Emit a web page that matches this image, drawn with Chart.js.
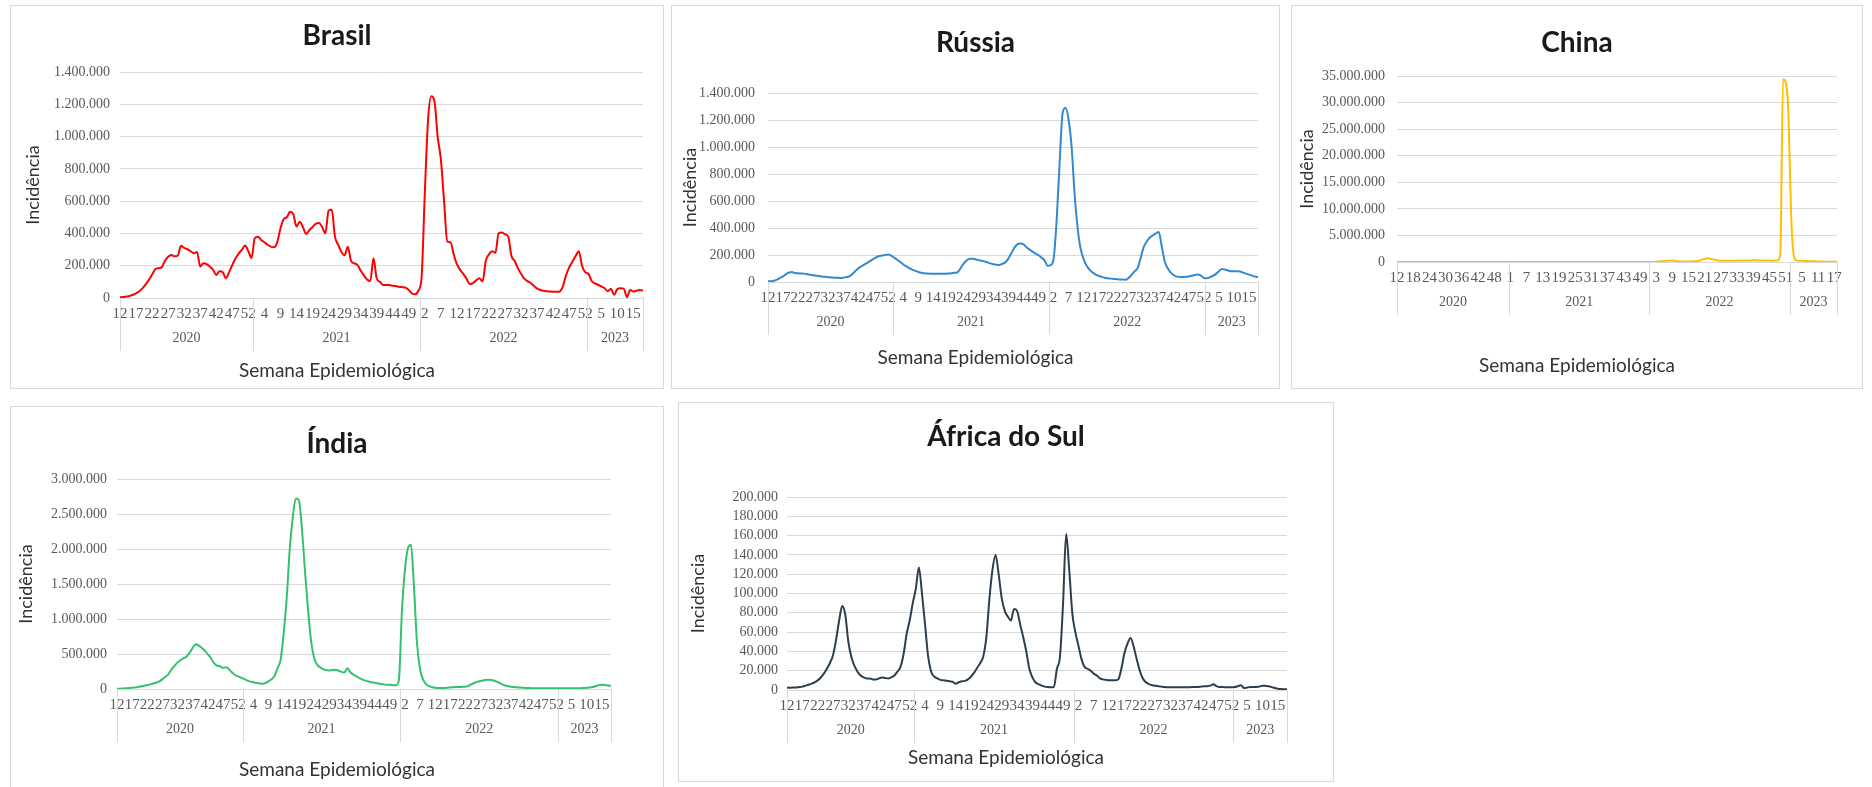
<!DOCTYPE html>
<html>
<head>
<meta charset="utf-8">
<script src="https://cdn.jsdelivr.net/npm/chart.js@4.4.1/dist/chart.umd.min.js"></script>
<style>
  body { margin: 0; background: #fff; width: 1872px; height: 787px; overflow: hidden; position: relative; }
  canvas { position: absolute; outline: 1px solid #d9d9d9; outline-offset: -1px; }
</style>
</head>
<body>
<canvas id="c_brasil"></canvas>
<canvas id="c_russia"></canvas>
<canvas id="c_china"></canvas>
<canvas id="c_india"></canvas>
<canvas id="c_africa"></canvas>
<script>
// categorias: semanas epidemiologicas agrupadas por ano
var yearNames = ['2020', '2021', '2022', '2023'];
var yearFirstWeek = [12, 1, 1, 1];
var yearLastWeek = [53, 52, 52, 18];

// incidencia semanal
var brasil = [
  4000, 6000, 9000, 12000, 20000, 29000, 42000, 60000, 85000, 112000,
  145000, 178000, 185000, 190000, 230000, 255000, 267000, 258000, 262000, 323000,
  310000, 302000, 290000, 277000, 285000, 195000, 215000, 210000, 194000, 175000,
  143000, 165000, 160000, 122000, 160000, 205000, 245000, 275000, 300000, 325000,
  290000, 248000, 370000, 380000, 360000, 345000, 330000, 318000, 314000, 345000,
  430000, 488000, 500000, 534000, 520000, 443000, 472000, 440000, 397000, 420000,
  440000, 460000, 465000, 440000, 401000, 540000, 546000, 380000, 330000, 285000,
  265000, 318000, 230000, 215000, 205000, 170000, 140000, 115000, 105000, 246000,
  122000, 100000, 81000, 81000, 80000, 76000, 74000, 70000, 67000, 64000,
  50000, 28000, 23000, 45000, 130000, 650000, 1100000, 1250000, 1220000, 1000000,
  860000, 600000, 350000, 345000, 270000, 210000, 174000, 150000, 120000, 87000,
  92000, 110000, 122000, 103000, 230000, 270000, 290000, 280000, 401000, 405000,
  395000, 380000, 260000, 230000, 185000, 150000, 120000, 105000, 93000, 75000,
  58000, 50000, 45000, 42000, 40000, 39000, 38000, 40000, 70000, 140000,
  190000, 225000, 260000, 290000, 200000, 160000, 150000, 105000, 90000, 82000,
  72000, 62000, 42000, 58000, 20000, 55000, 60000, 58000, 5000, 50000,
  40000, 45000, 50000, 45000
];
var russia = [
  5000, 6000, 9000, 18000, 30000, 42000, 58000, 70000, 74000, 66000,
  64000, 63000, 62000, 58000, 54000, 50000, 47000, 44000, 40000, 38000,
  36000, 34000, 32000, 31000, 30000, 32000, 36000, 42000, 58000, 80000,
  100000, 115000, 128000, 142000, 156000, 170000, 183000, 192000, 196000, 200000,
  203000, 195000, 180000, 165000, 148000, 130000, 115000, 103000, 92000, 82000,
  74000, 68000, 65000, 63000, 62000, 62000, 62000, 62000, 62000, 62000,
  63000, 65000, 68000, 72000, 100000, 135000, 158000, 172000, 173000, 168000,
  162000, 157000, 153000, 145000, 138000, 132000, 127000, 126000, 135000, 146000,
  175000, 215000, 255000, 280000, 285000, 278000, 258000, 240000, 225000, 210000,
  198000, 180000, 160000, 120000, 125000, 170000, 450000, 880000, 1250000, 1290000,
  1200000, 1000000, 650000, 400000, 245000, 170000, 120000, 90000, 70000, 55000,
  46000, 38000, 32000, 28000, 25000, 23000, 21000, 19000, 18000, 17000,
  30000, 55000, 80000, 104000, 180000, 260000, 300000, 330000, 345000, 360000,
  370000, 260000, 150000, 100000, 70000, 50000, 40000, 37000, 37000, 38000,
  40000, 46000, 52000, 55000, 48000, 30000, 28000, 35000, 45000, 60000,
  80000, 97000, 92000, 85000, 80000, 80000, 79000, 78000, 70000, 62000,
  55000, 47000, 40000, 37000
];
var china = [
  3000, 2500, 2000, 1500, 1200, 1000, 800, 600, 500, 500,
  400, 400, 300, 300, 300, 400, 400, 500, 600, 500,
  500, 400, 300, 300, 300, 300, 200, 200, 300, 300,
  300, 300, 300, 300, 300, 400, 400, 400, 500, 500,
  600, 700, 800, 900, 700, 500, 400, 300, 300, 300,
  300, 300, 300, 200, 200, 200, 300, 400, 400, 300,
  300, 300, 300, 400, 500, 500, 500, 600, 600, 600,
  700, 800, 900, 1000, 1000, 900, 900, 800, 800, 1000,
  1200, 1500, 2000, 2500, 3000, 3000, 2500, 2000, 2000, 2500,
  3000, 3500, 4000, 5000, 10000, 20000, 40000, 80000, 150000, 200000,
  220000, 250000, 260000, 200000, 120000, 80000, 70000, 80000, 100000, 110000,
  120000, 150000, 250000, 450000, 620000, 690000, 620000, 500000, 380000, 280000,
  250000, 240000, 240000, 250000, 250000, 250000, 260000, 260000, 270000, 280000,
  290000, 300000, 310000, 310000, 300000, 290000, 280000, 270000, 260000, 250000,
  260000, 300000, 1500000, 34400000, 33800000, 28000000, 9000000, 1200000, 300000, 250000,
  220000, 200000, 180000, 160000, 140000, 120000, 100000, 90000, 80000, 70000,
  60000, 50000, 40000, 30000
];
var india = [
  3000, 4000, 6000, 9000, 13000, 18000, 23000, 30000, 38000, 46000,
  56000, 66000, 78000, 92000, 110000, 140000, 175000, 214000, 280000, 330000,
  380000, 415000, 440000, 465000, 520000, 590000, 640000, 620000, 585000, 545000,
  495000, 440000, 370000, 335000, 325000, 300000, 310000, 280000, 235000, 200000,
  180000, 160000, 140000, 120000, 105000, 95000, 88000, 80000, 76000, 85000,
  110000, 140000, 190000, 300000, 420000, 800000, 1300000, 2000000, 2450000, 2720000,
  2700000, 2300000, 1700000, 1150000, 700000, 450000, 350000, 310000, 285000, 270000,
  265000, 270000, 275000, 265000, 245000, 235000, 295000, 240000, 205000, 180000,
  155000, 133000, 120000, 108000, 97000, 88000, 80000, 72000, 66000, 62000,
  60000, 56000, 52000, 120000, 1100000, 1700000, 2010000, 2060000, 1450000, 650000,
  280000, 133000, 70000, 40000, 25000, 18000, 15000, 14000, 15000, 18000,
  22000, 26000, 29000, 30000, 31000, 33000, 45000, 70000, 90000, 105000,
  115000, 125000, 132000, 133000, 125000, 110000, 90000, 70000, 50000, 40000,
  33000, 28000, 24000, 20000, 17000, 15000, 13000, 12000, 11000, 10000,
  10000, 9000, 9000, 9000, 9000, 9000, 9000, 9000, 9000, 9000,
  10000, 10000, 11000, 12000, 14000, 17000, 22000, 28000, 42000, 55000,
  62000, 58000, 50000, 45000
];
var africaSul = [
  2500, 2400, 2500, 2700, 3000, 3500, 4500, 5500, 6600, 8000,
  10000, 13000, 17000, 22000, 28000, 36000, 52000, 72000, 87000, 78000,
  50000, 34000, 25000, 19000, 15000, 13000, 12000, 12000, 11000, 11000,
  12000, 13000, 12500, 12000, 13000, 15000, 19000, 24000, 37000, 58000,
  72000, 90000, 105000, 127000, 100000, 68000, 35000, 19000, 14000, 12000,
  10500, 10000, 9500, 9000, 8500, 6500, 8000, 9000, 9500, 11000,
  14000, 18000, 23000, 28000, 35000, 55000, 95000, 125000, 140000, 120000,
  95000, 82000, 76000, 72000, 84000, 82000, 68000, 55000, 40000, 22000,
  13000, 8000, 6000, 4500, 3500, 3000, 2800, 3000, 22000, 35000,
  90000, 162000, 125000, 80000, 60000, 46000, 32000, 24000, 22000, 20000,
  17000, 15000, 12000, 11000, 10500, 10000, 10000, 10000, 11000, 22000,
  38000, 48000, 54000, 45000, 32000, 20000, 12000, 8000, 6000, 5000,
  4500, 4000, 3500, 3000, 2800, 2800, 2800, 2800, 2800, 2800,
  2800, 2900, 3000, 3000, 3200, 3500, 3800, 4000, 4500, 6000,
  4000, 3000, 3000, 2900, 2800, 2800, 3000, 4000, 5000, 2000,
  2500, 3000, 3000, 3200, 3500, 4500, 4200, 3800, 3000, 2000,
  1400, 1000, 800, 700
];

// rotulos das semanas
var weekLabels = [];
var yearStart = [];
for (var k = 0; k < yearNames.length; k++) {
  yearStart.push(weekLabels.length);
  for (var w = yearFirstWeek[k]; w <= yearLastWeek[k]; w++) weekLabels.push(String(w));
}

function fmt(v) {
  return String(v).replace(/\B(?=(\d{3})+(?!\d))/g, '.');
}

var yTickFont = { family: 'Liberation Serif', size: 14 };
var xTickFont = { family: 'Liberation Serif', size: 15 };
var tickColor = '#595959';
var gridColor = '#d9d9d9';
var titleSize = 28;
var axisTitleSize = 19;

// segunda linha do eixo x: anos com separadores
var yearRow = {
  id: 'yearRow',
  afterDraw: function (chart) {
    var xs = chart.scales.x;
    var ctx = chart.ctx;
    var base = chart.chartArea.bottom;
    var n = weekLabels.length;
    ctx.save();
    ctx.strokeStyle = gridColor;
    ctx.lineWidth = 1;
    ctx.fillStyle = tickColor;
    ctx.font = yTickFont.size + "px '" + yTickFont.family + "'";
    ctx.textAlign = 'center';
    ctx.textBaseline = 'middle';
    var edges = [xs.getPixelForValue(0)];
    for (var k = 1; k < yearStart.length; k++) {
      edges.push((xs.getPixelForValue(yearStart[k] - 1) + xs.getPixelForValue(yearStart[k])) / 2);
    }
    edges.push(xs.getPixelForValue(n - 1));
    for (var e = 0; e < edges.length; e++) {
      var px = Math.round(edges[e]) + 0.5;
      ctx.beginPath();
      ctx.moveTo(px, base);
      ctx.lineTo(px, base + 53);
      ctx.stroke();
    }
    for (var y = 0; y < yearNames.length; y++) {
      ctx.fillText(yearNames[y], (edges[y] + edges[y + 1]) / 2, base + 40);
    }
    ctx.restore();
  }
};

var panels = [
  { id: 'c_brasil', title: 'Brasil', values: brasil, color: '#ff0000', yMax: 1400000, yStep: 200000, step: 5,
    x: 10, y: 5, w: 654, h: 384, plotLeft: 110, plotRight: 633, plotTop: 67, axisY: 293, titleY: 31, yTitleX: 23, xTitleY: 366, labelRight: 100 },
  { id: 'c_russia', title: 'Rússia', values: russia, color: '#3389d0', yMax: 1400000, yStep: 200000, step: 5,
    x: 671, y: 5, w: 609, h: 384, plotLeft: 97, plotRight: 587, plotTop: 88, axisY: 277, titleY: 38, yTitleX: 19, xTitleY: 353, labelRight: 84 },
  { id: 'c_china', title: 'China', values: china, color: '#ffc000', yMax: 35000000, yStep: 5000000, step: 6,
    x: 1291, y: 5, w: 572, h: 384, plotLeft: 106, plotRight: 546, plotTop: 71, axisY: 257, titleY: 38, yTitleX: 16, xTitleY: 361, labelRight: 94 },
  { id: 'c_india', title: 'Índia', values: india, color: '#35c06e', yMax: 3000000, yStep: 500000, step: 5,
    x: 10, y: 406, w: 654, h: 400, plotLeft: 107, plotRight: 601, plotTop: 73, axisY: 283, titleY: 38, yTitleX: 16, xTitleY: 364, labelRight: 97 },
  { id: 'c_africa', title: 'África do Sul', values: africaSul, color: '#2d3e50', yMax: 200000, yStep: 20000, step: 5,
    x: 678, y: 402, w: 656, h: 380, plotLeft: 109, plotRight: 609, plotTop: 95, axisY: 288, titleY: 35, yTitleX: 20, xTitleY: 356, labelRight: 100 }
];

function makeChart(p) {
  var cv = document.getElementById(p.id);
  cv.width = p.w;
  cv.height = p.h;
  cv.style.left = p.x + 'px';
  cv.style.top = p.y + 'px';
  var lh = axisTitleSize * 1.2;
  var tlh = titleSize * 1.2;

  new Chart(cv, {
    type: 'line',
    data: {
      labels: weekLabels,
      datasets: [{
        data: p.values,
        borderColor: p.color,
        borderWidth: 2,
        pointRadius: 0,
        cubicInterpolationMode: 'monotone',
        fill: false
      }]
    },
    options: {
      responsive: false,
      animation: false,
      devicePixelRatio: 1,
      layout: { padding: 0 },
      plugins: {
        legend: { display: false },
        tooltip: { enabled: false },
        title: {
          display: true,
          text: p.title,
          color: '#1a1a1a',
          font: { family: 'Lato', size: titleSize, weight: 'bold' },
          padding: { top: p.titleY - tlh / 2, bottom: p.plotTop - p.titleY - tlh / 2 }
        },
        subtitle: {
          display: true,
          position: 'bottom',
          text: 'Semana Epidemiológica',
          color: '#333333',
          font: { family: 'Lato', size: axisTitleSize },
          padding: { top: 0, bottom: p.h - p.xTitleY - lh / 2 }
        }
      },
      scales: {
        x: {
          grid: { display: false, drawTicks: false },
          border: { display: false },
          ticks: {
            autoSkip: false, maxRotation: 0, minRotation: 0, padding: 7,
            color: tickColor, font: xTickFont,
            callback: function (v, i) { return i % p.step === 0 ? weekLabels[i] : ''; }
          },
          afterFit: function (s) {
            s.height = p.xTitleY - lh / 2 - p.axisY;
            s.paddingRight = p.w - p.plotRight;
          }
        },
        y: {
          min: 0,
          max: p.yMax,
          grid: { color: gridColor, drawTicks: false },
          border: { display: false },
          ticks: {
            stepSize: p.yStep,
            autoSkip: false,
            padding: p.plotLeft - p.labelRight,
            color: tickColor, font: yTickFont,
            callback: function (v) { return fmt(v); }
          },
          title: {
            display: true,
            text: 'Incidência',
            color: '#333333',
            font: { family: 'Lato', size: 18 },
            padding: { top: p.yTitleX - 18 * 0.6, bottom: 0 }
          },
          afterFit: function (s) { s.width = p.plotLeft; }
        }
      }
    },
    plugins: [yearRow]
  });
}

panels.forEach(makeChart);
</script>
</body>
</html>
